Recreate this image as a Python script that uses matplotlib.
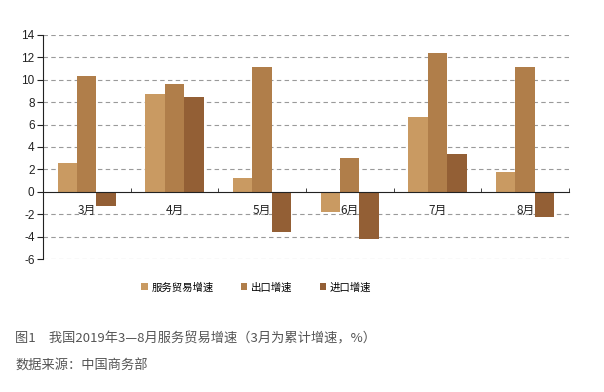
import matplotlib
matplotlib.use("Agg")
import matplotlib.pyplot as plt
import numpy as np

plt.rcParams['font.family'] = ['Noto Sans CJK SC', 'DejaVu Sans']
plt.rcParams['axes.unicode_minus'] = False

categories = ['3月', '4月', '5月', '6月', '7月', '8月']
services = [2.6, 8.7, 1.2, -1.8, 6.7, 1.8]
exports = [10.3, 9.6, 11.1, 3.0, 12.4, 11.1]
imports = [-1.3, 8.5, -3.6, -4.2, 3.4, -2.2]
series_names = ['服务贸易增速', '出口增速', '进口增速']
colors = ['#C99A62', '#B07E4A', '#935F35']
yticks = list(range(-6, 15, 2))

fig = plt.figure(figsize=(6.04, 3.92), dpi=100)
ax = fig.add_axes([0.071, 0.339, 0.871, 0.572])

x = np.arange(len(categories))
w = 0.222
for i, (vals, c, n) in enumerate(zip([services, exports, imports], colors, series_names)):
    ax.bar(x + (i - 1) * w, vals, w, color=c, label=n, zorder=3)

ax.set_xlim(-0.5, len(categories) - 0.5)
ax.set_ylim(-6, 14)
ax.set_yticks(yticks)
ax.set_yticklabels([str(v) for v in yticks], fontsize=8.5, color='#222222',
                   family=['Liberation Sans', 'DejaVu Sans'])
for v in yticks:
    if v != 0:
        ax.axhline(v, color='#9a9a9a', lw=0.8, ls=(0, (4, 3)), zorder=1)

ax.spines['top'].set_visible(False)
ax.spines['right'].set_visible(False)
ax.spines['bottom'].set_position(('data', 0))
ax.spines['bottom'].set_color('#222222')
ax.spines['left'].set_color('#222222')
ax.spines['bottom'].set_zorder(4)

ax.set_xticks(x)
ax.set_xticklabels(categories, fontsize=8.5, color='#222222')
ax.tick_params(axis='x', length=0, pad=9)
ax.set_xticks(np.arange(-0.5, len(categories), 1.0), minor=True)
ax.tick_params(axis='x', which='minor', direction='in', length=3, color='#222222')
ax.tick_params(axis='y', length=4, direction='out', color='#222222', pad=2)

leg = fig.legend(loc='center', bbox_to_anchor=(0.424, 0.267), ncol=3, frameon=False,
                 fontsize=7.5, handlelength=0.65, handleheight=0.65, handletextpad=0.35,
                 columnspacing=2.6)

fig.text(0.025, 0.135, '图1　我国2019年3—8月服务贸易增速（3月为累计增速，%）',
         fontsize=9.5, color='#555555', va='center')
fig.text(0.025, 0.066, '数据来源：中国商务部', fontsize=9.5, color='#555555', va='center')

fig.savefig('out.png', dpi=100)
